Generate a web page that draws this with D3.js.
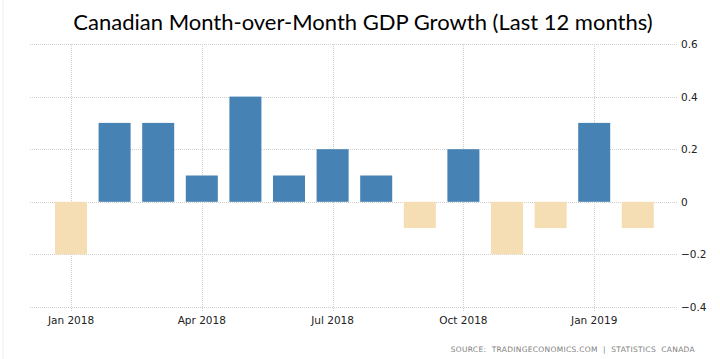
<!DOCTYPE html>
<html><head><meta charset="utf-8">
<script src="https://cdn.jsdelivr.net/npm/d3@7"></script>
<style>body{margin:0;background:#fff}svg{display:block}</style>
</head><body>
<script>
const months = ["2018-01","2018-02","2018-03","2018-04","2018-05","2018-06","2018-07","2018-08","2018-09","2018-10","2018-11","2018-12","2019-01","2019-02"];
const values = [-0.2,0.3,0.3,0.1,0.4,0.1,0.2,0.1,-0.1,0.2,-0.2,-0.1,0.3,-0.1];
const yTicks = [0.6,0.4,0.2,0,-0.2,-0.4];
const xTickMonths = ["2018-01","2018-04","2018-07","2018-10","2019-01"];
const xTickLabels = ["Jan 2018","Apr 2018","Jul 2018","Oct 2018","Jan 2019"];
const title = "Canadian Month-over-Month GDP Growth (Last 12 months)";
const source = "SOURCE:  TRADINGECONOMICS.COM  |  STATISTICS  CANADA";

const W=720,H=359;
const svg=d3.select("body").append("svg").attr("width",W).attr("height",H);
const x=d3.scaleBand().domain(months).range([49.2,659.6]).paddingInner(0.266).paddingOuter(0.133);
const y=d3.scaleLinear().domain([-0.4,0.6]).range([307,44]);
const gridL=30,gridR=677;

svg.append("line").attr("x1",3).attr("x2",3).attr("y1",0).attr("y2",H).attr("stroke","#eee");

// horizontal grid
svg.append("g").selectAll("line").data(yTicks).join("line")
 .attr("x1",gridL).attr("x2",gridR).attr("y1",d=>Math.round(y(d))+0.5).attr("y2",d=>Math.round(y(d))+0.5)
 .attr("stroke","#cfcfcf").attr("stroke-dasharray","1,1");
// vertical grid
svg.append("g").selectAll("line").data(xTickMonths).join("line")
 .attr("x1",d=>Math.round(x(d)+x.bandwidth()/2)+0.5).attr("x2",d=>Math.round(x(d)+x.bandwidth()/2)+0.5)
 .attr("y1",44).attr("y2",311)
 .attr("stroke","#cfcfcf").attr("stroke-dasharray","1,1");

// bars
svg.append("g").selectAll("rect").data(values).join("rect")
 .attr("x",(d,i)=>x(months[i])).attr("width",x.bandwidth())
 .attr("y",d=>y(Math.max(0,d))).attr("height",d=>Math.abs(y(d)-y(0)))
 .attr("fill",d=>d>=0?"#4682b4":"#f5deb3");

// y labels
svg.append("g").selectAll("text").data(yTicks).join("text")
 .attr("x",681).attr("y",d=>y(d)+4).text(d=>d===0?"0":d3.format(".1f")(d))
 .attr("font-family","DejaVu Sans, Verdana, sans-serif").attr("font-size",10.5).attr("fill","#222");

// x labels
svg.append("g").selectAll("text").data(xTickMonths).join("text")
 .attr("x",d=>x(d)+x.bandwidth()/2).attr("y",324).attr("text-anchor","middle")
 .text((d,i)=>xTickLabels[i])
 .attr("font-family","DejaVu Sans, Verdana, sans-serif").attr("font-size",10.5).attr("fill","#222");

svg.append("text").attr("x",363).attr("y",30).attr("text-anchor","middle").text(title)
 .attr("font-family","Lato, sans-serif").attr("font-size",22).attr("fill","#000");

svg.append("text").attr("x",695).attr("y",352).attr("text-anchor","end").text(source)
 .attr("font-family","DejaVu Sans, sans-serif").attr("font-size",7.5).attr("letter-spacing",0.3).attr("fill","#808080").style("white-space","pre");
</script>
</body></html>
